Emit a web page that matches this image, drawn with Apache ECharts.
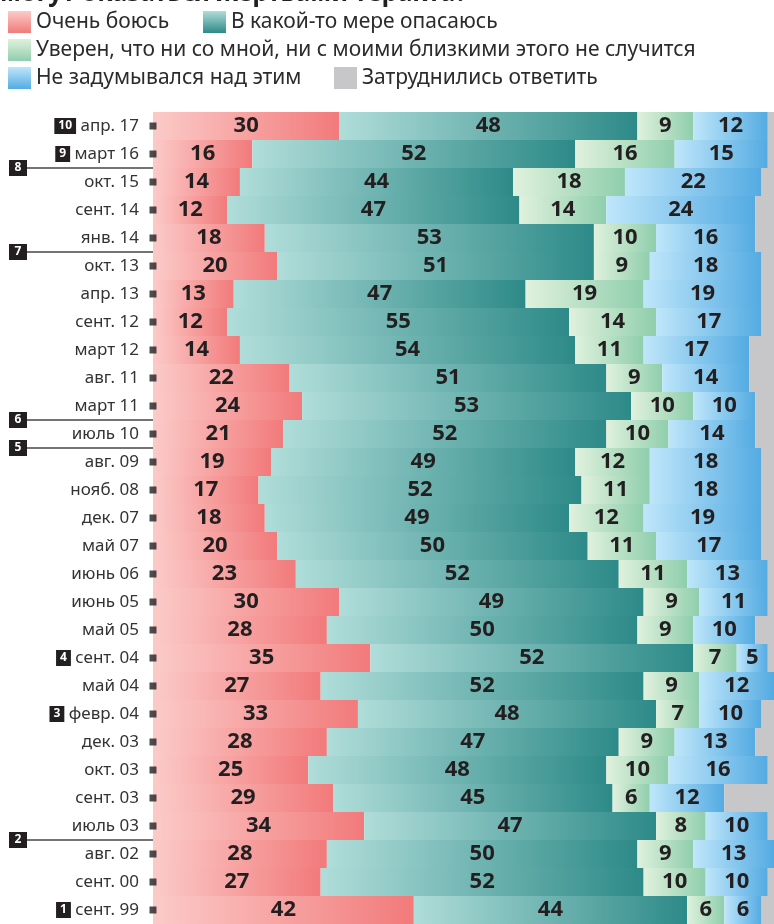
<!DOCTYPE html>
<html lang="ru">
<head>
<meta charset="UTF-8">
<title></title>
<script src="https://cdn.jsdelivr.net/npm/echarts@6/dist/echarts.min.js"></script>
<style>
    body { margin: 0; background: #fff; }
    #chart { width: 774px; height: 924px; }
</style>
</head>
<body>
<div id="chart"></div>
<script>
// опросы, сверху вниз
var months = ['апр. 17', 'март 16', 'окт. 15', 'сент. 14', 'янв. 14', 'окт. 13', 'апр. 13', 'сент. 12',
    'март 12', 'авг. 11', 'март 11', 'июль 10', 'авг. 09', 'нояб. 08', 'дек. 07', 'май 07', 'июнь 06',
    'июнь 05', 'май 05', 'сент. 04', 'май 04', 'февр. 04', 'дек. 03', 'окт. 03', 'сент. 03', 'июль 03',
    'авг. 02', 'сент. 00', 'сент. 99'];
var veryAfraid = [30, 16, 14, 12, 18, 20, 13, 12, 14, 22, 24, 21, 19, 17, 18, 20, 23, 30, 28, 35, 27, 33, 28, 25, 29, 34, 28, 27, 42];
var somewhat   = [48, 52, 44, 47, 53, 51, 47, 55, 54, 51, 53, 52, 49, 52, 49, 50, 52, 49, 50, 52, 52, 48, 47, 48, 45, 47, 50, 52, 44];
var sure       = [9, 16, 18, 14, 10, 9, 19, 14, 11, 9, 10, 10, 12, 11, 12, 11, 11, 9, 9, 7, 9, 7, 9, 10, 6, 8, 9, 10, 6];
var notThought = [12, 15, 22, 24, 16, 18, 19, 17, 17, 14, 10, 14, 18, 18, 19, 17, 13, 11, 10, 5, 12, 10, 13, 16, 12, 10, 13, 10, 6];
var noAnswer   = [1, 1, 2, 3, 3, 2, 2, 2, 4, 4, 3, 3, 2, 2, 2, 2, 1, 1, 3, 1, 0, 2, 3, 1, 8, 1, 0, 1, 2];

// номера событий
var inlineMarks = {'апр. 17': '10', 'март 16': '9', 'сент. 04': '4', 'февр. 04': '3', 'сент. 99': '1'};
var lineMarks = [['8', 'март 16'], ['7', 'янв. 14'], ['6', 'март 11'], ['5', 'июль 10'], ['2', 'июль 03']];

var names = ['Очень боюсь', 'В какой-то мере опасаюсь',
    'Уверен, что ни со мной, ни с моими близкими этого не случится',
    'Не задумывался над этим', 'Затруднились ответить'];
var colors = [['#fbcbc8', '#f27a7b'], ['#b0ddd9', '#2d8a88'], ['#e0f1dd', '#8fceac'], ['#bfe6fa', '#54abe2'], ['#c7c7c9', '#c7c7c9']];

var font = 'Noto Sans';
var dark = '#231f20';

function grad(c, vertical) {
    return new echarts.graphic.LinearGradient(0, 0, vertical ? 0 : 1, vertical ? 1 : 0,
        [{offset: 0, color: c[0]}, {offset: 1, color: c[1]}]);
}

var chart = echarts.init(document.getElementById('chart'));

var values = [veryAfraid, somewhat, sure, notThought, noAnswer];
var series = values.map(function (v, i) {
    return {
        name: names[i],
        type: 'bar',
        stack: 'all',
        barCategoryGap: '0%',
        data: v,
        itemStyle: {color: grad(colors[i])},
        label: {
            show: i < 4,
            position: 'inside',
            color: dark,
            fontFamily: font,
            fontSize: 22,
            fontWeight: 'bold'
        },
        silent: true
    };
});
series.push({
    type: 'scatter',
    symbol: 'rect',
    symbolSize: 7,
    clip: false,
    z: 5,
    itemStyle: {color: dark},
    data: months.map(function (m) { return [0, m]; })
});

var legendLeft = [8, 203, 8, 8, 334];
var legendTop = [11, 11, 39, 67, 67];
var legends = names.map(function (n, i) {
    return {
        left: legendLeft[i],
        top: legendTop[i],
        padding: 0,
        itemWidth: 23,
        itemHeight: 22,
        itemGap: 0,
        selectedMode: false,
        icon: 'rect',
        textStyle: {fontFamily: font, fontSize: 21, color: '#2b2b2b'},
        data: [{name: n, itemStyle: {color: grad(colors[i], true)}}]
    };
});

chart.setOption({
    animation: false,
    legend: legends,
    grid: {left: 153, right: -5, top: 112, bottom: 0, containLabel: false},
    xAxis: {type: 'value', min: 0, max: 100, show: false},
    yAxis: {
        type: 'category',
        inverse: true,
        data: months,
        axisLine: {show: false},
        axisTick: {show: false},
        axisLabel: {
            margin: 14,
            fontFamily: font,
            fontSize: 17,
            color: '#333',
            formatter: function (v) {
                return inlineMarks[v] ? '{b|' + inlineMarks[v] + '} ' + v : v;
            },
            rich: {
                b: {
                    backgroundColor: dark,
                    color: '#fff',
                    fontFamily: font,
                    fontSize: 12,
                    fontWeight: 'bold',
                    padding: [2, 4, 2, 4]
                }
            }
        }
    },
    series: series
});

// линии с номерами между опросами
var graphics = [{
    type: 'text',
    style: {x: 0, y: 6, text: 'могут оказаться жертвами теракта?', verticalAlign: 'bottom',
        fontFamily: font, fontSize: 25, fontWeight: 'bold', fill: dark}
}];
lineMarks.forEach(function (m) {
    var i = months.indexOf(m[1]);
    var y = (chart.convertToPixel({yAxisIndex: 0}, months[i]) + chart.convertToPixel({yAxisIndex: 0}, months[i + 1])) / 2;
    graphics.push({
        type: 'line',
        shape: {x1: 27, y1: y, x2: 153, y2: y},
        style: {stroke: '#444', lineWidth: 1.5}
    });
    graphics.push({
        type: 'rect',
        shape: {x: 9, y: y - 8, width: 18, height: 16},
        style: {fill: dark}
    });
    graphics.push({
        type: 'text',
        style: {x: 18, y: y, text: m[0], align: 'center', verticalAlign: 'middle',
            fontFamily: font, fontSize: 12, fontWeight: 'bold', fill: '#fff'}
    });
});
chart.setOption({graphic: graphics});
</script>
</body>
</html>
